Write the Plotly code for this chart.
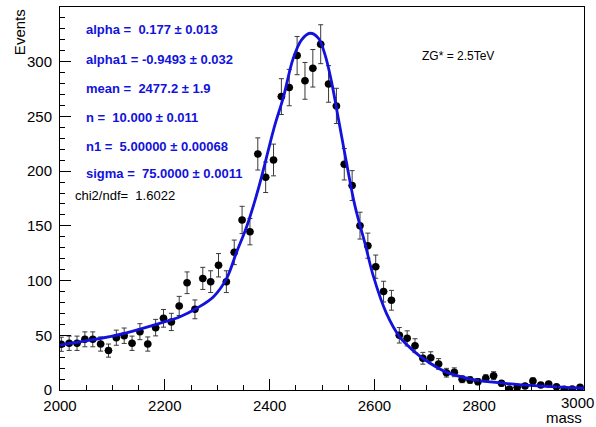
import numpy as np
import plotly.graph_objects as go

# ---- binned mass spectrum (bin width 15) ----
bin_width = 15.0
mass_centers = np.arange(2002.5, 3000.0, bin_width)
events = [
    41.8, 42.7, 42.7, 46.3, 46.3, 42.0, 36.0, 47.8, 49.6, 42.7,
    53.3, 42.0, 57.0, 65.5, 62.2, 76.8, 98.0, 73.7, 102.0, 99.0,
    114.0, 99.0, 125.8, 155.4, 144.7, 215.7, 194.4, 210.2, 268.1, 276.4,
    305.6, 282.5, 294.0, 316.0, 279.7, 259.6, 206.3, 186.8, 150.2, 131.9,
    112.7, 89.9, 82.0, 50.0, 47.2, 40.5, 29.0, 29.5, 23.8, 15.8,
    16.2, 9.8, 9.1, 7.6, 10.7, 13.1, 6.1, 0.9, 2.4, 3.7,
    8.2, 4.6, 5.5, 3.0, 0.6, 0.9, 2.4,
]
# Poisson uncertainties on the bin contents
events_err = np.sqrt(np.array(events))

# ---- fitted line shape, sampled along the mass axis ----
fit_mass = [2000, 2060, 2123, 2187, 2229, 2261, 2293, 2318, 2337, 2356,
            2378, 2410, 2426, 2445, 2461, 2477.2, 2493, 2506, 2518, 2532,
            2547, 2563, 2582, 2598, 2623, 2649, 2674, 2697, 2735, 2786,
            2849, 2913, 3000]
fit_events = [41.0, 45.7, 51.8, 60.5, 67.0, 74.7, 85.3, 102.0, 126.0, 149.0,
              183.0, 242.0, 267.0, 303.0, 320.0, 326.0, 321.5, 306.0, 282.0, 246.0,
              207.0, 168.0, 134.0, 104.0, 70.0, 48.0, 36.0, 27.4, 16.8, 9.8,
              6.1, 3.7, 1.6]

# ---- fit results ----
fit_params = [
    "alpha =  0.177 \u00b1 0.013",
    "alpha1 = -0.9493 \u00b1 0.032",
    "mean =  2477.2 \u00b1 1.9",
    "n =  10.000 \u00b1 0.011",
    "n1 =  5.00000 \u00b1 0.00068",
    "sigma =  75.0000 \u00b1 0.0011",
]
chi2_text = "chi2/ndf=  1.6022"
signal_text = "ZG* = 2.5TeV"
last_tick_label = "3000"

FONT = "Liberation Sans, Arial, Helvetica, sans-serif"
BLUE = "#1212dc"

fig = go.Figure()

fig.add_trace(go.Scatter(
    x=mass_centers, y=events, mode="markers",
    marker=dict(color="black", size=7.5, symbol="circle"),
    error_y=dict(type="data", array=events_err, visible=True,
                 color="#3a3a3a", thickness=1, width=2.5),
    error_x=dict(type="constant", value=bin_width / 2, visible=True,
                 color="#3a3a3a", thickness=1, width=0),
    showlegend=False, cliponaxis=True,
))

fig.add_trace(go.Scatter(
    x=fit_mass, y=fit_events, mode="lines",
    line=dict(color=BLUE, width=2.8, shape="spline", smoothing=1.0),
    showlegend=False,
))

annotations = []
param_y = [0.940, 0.864, 0.786, 0.711, 0.637, 0.565]
for txt, yy in zip(fit_params, param_y):
    annotations.append(dict(
        text="<b>" + txt + "</b>", xref="paper", yref="paper",
        x=0.046, y=yy, xanchor="left", yanchor="middle", showarrow=False,
        font=dict(family=FONT, size=13, color=BLUE),
    ))
annotations.append(dict(
    text=chi2_text, xref="paper", yref="paper", x=0.025, y=0.509,
    xanchor="left", yanchor="middle", showarrow=False,
    font=dict(family=FONT, size=13, color="black"),
))
annotations.append(dict(
    text=signal_text, xref="paper", yref="paper", x=0.687, y=0.872,
    xanchor="left", yanchor="middle", showarrow=False,
    font=dict(family=FONT, size=12, color="black"),
))
annotations.append(dict(
    text="Events", xref="paper", yref="paper", x=-0.078, y=1.0,
    xanchor="center", yanchor="top", textangle=-90, showarrow=False,
    font=dict(family=FONT, size=15, color="black"),
))
# last axis label, kept inside the canvas edge
annotations.append(dict(
    text=last_tick_label, xref="paper", yref="paper", x=1.0225, y=-0.006,
    xanchor="right", yanchor="top", showarrow=False,
    font=dict(family=FONT, size=15, color="black"),
))
annotations.append(dict(
    text="mass", xref="paper", yref="paper", x=1.0, y=-0.073,
    xanchor="right", yanchor="middle", showarrow=False,
    font=dict(family=FONT, size=15, color="black"),
))

fig.update_layout(
    width=596, height=427,
    margin=dict(l=60, r=12, t=7, b=37),
    paper_bgcolor="white", plot_bgcolor="white",
    font=dict(family=FONT, size=15, color="black"),
    annotations=annotations,
    xaxis=dict(
        range=[2000, 3000], dtick=200, tick0=2000,
        showgrid=False, zeroline=False,
        showline=True, linecolor="black", linewidth=1, mirror=True,
        ticks="inside", ticklen=11, tickwidth=1, tickcolor="black",
        minor=dict(dtick=50, ticks="inside", ticklen=5, tickcolor="black", showgrid=False),
        tickfont=dict(family=FONT, size=15, color="black"),
        ticklabelstandoff=2,
    ),
    yaxis=dict(
        range=[0, 350], dtick=50, tick0=0,
        showgrid=False, zeroline=False,
        showline=True, linecolor="black", linewidth=1, mirror=True,
        ticks="inside", ticklen=11, tickwidth=1, tickcolor="black",
        minor=dict(dtick=10, ticks="inside", ticklen=5, tickcolor="black", showgrid=False),
        tickfont=dict(family=FONT, size=15, color="black"),
        ticklabelstandoff=4,
    ),
)

fig.write_html("out.html")
